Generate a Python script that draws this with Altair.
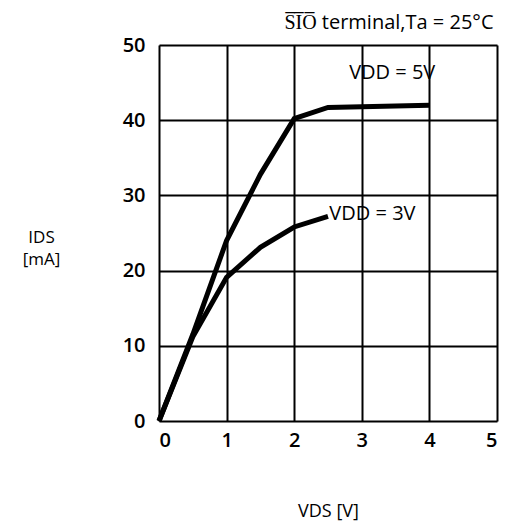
import altair as alt
import pandas as pd

vds_5v = [0, 0.5, 1.0, 1.5, 2.0, 2.5, 4.0]
ids_5v = [0, 11.5, 24, 32.8, 40.2, 41.7, 42.0]
vds_3v = [0, 0.5, 1.0, 1.5, 2.0, 2.5]
ids_3v = [0, 11.2, 19.1, 23.1, 25.8, 27.2]

labels = ["VDD = 5V", "VDD = 3V"]
label_x = [3.45, 2.52]
label_y = [46.3, 27.5]
label_align = ["center", "left"]

df = pd.concat([
    pd.DataFrame({"vds": vds_5v, "ids": ids_5v, "s": "5V"}),
    pd.DataFrame({"vds": vds_3v, "ids": ids_3v, "s": "3V"}),
])
lab = pd.DataFrame({"t": labels, "x": label_x, "y": label_y, "a": label_align})

FONT = "Open Sans"

x = alt.X("vds:Q", scale=alt.Scale(domain=[0, 5], nice=False),
          axis=alt.Axis(values=[0, 1, 2, 3, 4, 5], format="d", title="VDS [V]", titleFontSize=18,
                        titleFont=FONT, titleFontWeight="normal", titlePadding=52,
                        labelFontSize=20, labelFont=FONT, labelFontWeight=600,
                        labelPadding=9, tickSize=0, domain=False, grid=True,
                        gridColor="black", gridWidth=2, gridOpacity=1))
y = alt.Y("ids:Q", scale=alt.Scale(domain=[0, 50], nice=False),
          axis=alt.Axis(values=[0, 10, 20, 30, 40, 50], format="d", title=["IDS", "[mA]"], titleAngle=0,
                        titleFontSize=17, titleFont=FONT, titleFontWeight="normal",
                        titleLineHeight=22,
                        titleAlign="center", titleBaseline="middle", titleX=-118, titleY=192,
                        labelFontSize=20, labelFont=FONT, labelFontWeight=600,
                        labelPadding=14, tickSize=0, domain=False, grid=True,
                        gridColor="black", gridWidth=2, gridOpacity=1))

lines = alt.Chart(df).mark_line(color="black", strokeWidth=5).encode(
    x=x, y=y, detail="s:N")

text5 = alt.Chart(lab[lab.a == "center"]).mark_text(
    fontSize=20, font=FONT, align="center", color="black").encode(
    x="x:Q", y="y:Q", text="t:N")
text3 = alt.Chart(lab[lab.a == "left"]).mark_text(
    fontSize=20, font=FONT, align="left", color="black").encode(
    x="x:Q", y="y:Q", text="t:N")

chart = alt.layer(lines, text5, text3).properties(
    width=338, height=376,
    autosize=alt.AutoSizeParams(type="none"),
    padding={"left": 151, "top": 37, "right": 6, "bottom": 100},
    title=alt.TitleParams("S\u0305I\u0305O\u0305 terminal,Ta = 25\u00b0C", anchor="end",
                          fontSize=20, font=FONT, fontWeight="normal", offset=2,
                          dx=-4),
).configure_view(stroke="black", strokeWidth=2.5).configure(background="white")

chart.save("out.html", embed_options={"renderer": "svg", "actions": False})
